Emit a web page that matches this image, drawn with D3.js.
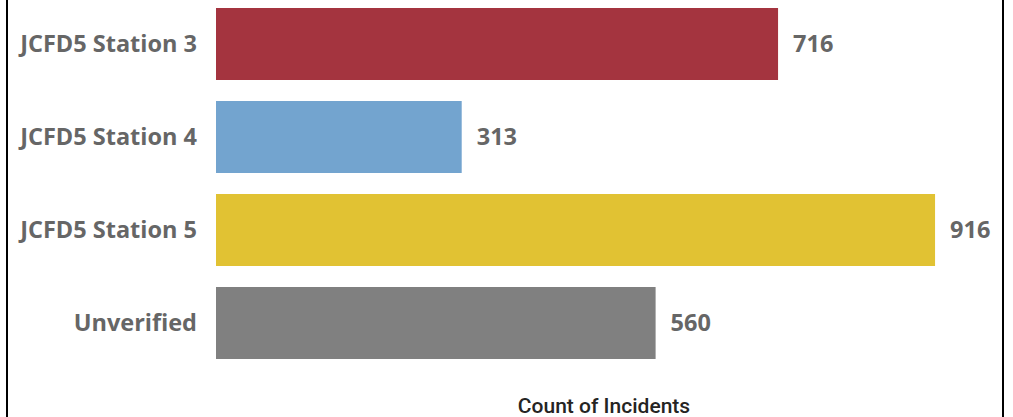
<!DOCTYPE html>
<html>
<head>
<meta charset="utf-8">
<script src="https://cdn.jsdelivr.net/npm/d3@7"></script>
<style>
  body { margin: 0; background: #fff; }
  svg { display: block; }
</style>
</head>
<body>
<script>
var categories = ["JCFD5 Station 3", "JCFD5 Station 4", "JCFD5 Station 5", "Unverified"];
var counts = [716, 313, 916, 560];
var colors = ["#A4343F", "#73A4CF", "#E1C233", "#808080"];
var axisTitle = "Count of Incidents";

var width = 1013, height = 417;

var svg = d3.select("body").append("svg")
    .attr("width", width).attr("height", height);

// border lines left and right
svg.append("rect")
    .attr("x", 7).attr("y", -5)
    .attr("width", 996).attr("height", height + 10)
    .attr("fill", "none").attr("stroke", "#000").attr("stroke-width", 2);

var x = d3.scaleLinear().domain([0, 1000]).range([216, 1001]);
var y = d3.scaleBand().domain(categories).range([-2.5, 369.5])
    .paddingInner(0.226).paddingOuter(0.113);

var data = categories.map(function (c, i) { return {cat: c, val: counts[i], col: colors[i]}; });

svg.selectAll("rect.bar").data(data).enter().append("rect")
    .attr("class", "bar")
    .attr("x", x(0))
    .attr("y", function (d) { return y(d.cat); })
    .attr("width", function (d) { return x(d.val) - x(0); })
    .attr("height", y.bandwidth())
    .attr("fill", function (d) { return d.col; });

// category labels (y axis, no line/ticks)
var yAxis = d3.axisLeft(y).tickSize(0).tickPadding(19);
var gy = svg.append("g").attr("transform", "translate(216,0)").call(yAxis);
gy.select(".domain").remove();
gy.selectAll("text")
    .attr("font-family", "'Segoe UI', 'Open Sans', sans-serif")
    .attr("font-weight", "bold")
    .attr("font-size", 23.5)
    .attr("fill", "#666666");

// value labels
svg.selectAll("text.val").data(data).enter().append("text")
    .attr("class", "val")
    .attr("x", function (d) { return x(d.val) + 15; })
    .attr("y", function (d) { return y(d.cat) + y.bandwidth() / 2; })
    .attr("dy", "0.36em")
    .attr("font-family", "'Segoe UI', 'Open Sans', sans-serif")
    .attr("font-weight", "bold")
    .attr("font-size", 23.5)
    .attr("fill", "#666666")
    .text(function (d) { return d.val; });

svg.append("text")
    .attr("x", 604).attr("y", 413)
    .attr("text-anchor", "middle")
    .attr("font-family", "Roboto, sans-serif")
    .attr("font-weight", 500)
    .attr("font-size", 21)
    .attr("fill", "#252423")
    .text(axisTitle);
</script>
</body>
</html>
